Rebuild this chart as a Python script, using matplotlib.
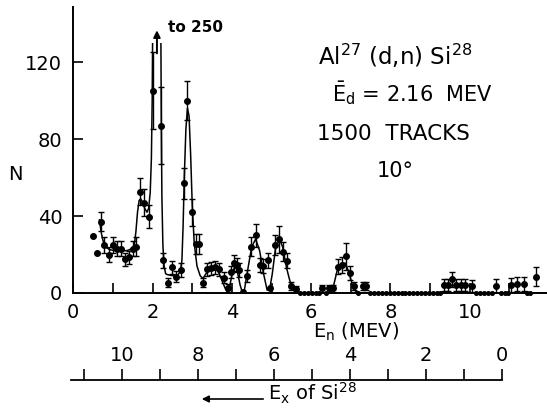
import matplotlib
matplotlib.use('Agg')
import matplotlib.pyplot as plt
from matplotlib.patches import Rectangle, FancyArrowPatch

# ---------------- data ----------------
energy = [0.49, 0.59, 0.69, 0.78, 0.89, 1.00, 1.10, 1.20, 1.31, 1.41, 1.50, 1.59,
          1.68, 1.79, 1.90, 2.00, 2.21, 2.27, 2.38, 2.49, 2.59, 2.71, 2.80, 2.88,
          2.99, 3.10, 3.18, 3.28, 3.37, 3.47, 3.57, 3.67, 3.79, 3.89, 3.97, 4.06,
          4.12, 4.19, 4.29, 4.39, 4.48, 4.61, 4.70, 4.78, 4.91, 4.95, 5.08, 5.20,
          5.30, 5.40, 5.49, 5.61, 6.27, 6.45, 6.55, 6.67, 6.78, 6.89, 6.99, 7.09,
          7.30, 7.38, 9.36, 9.44, 9.56, 9.66, 9.77, 9.87, 10.05, 10.67, 11.05,
          11.20, 11.36, 11.66]
counts = [29.6, 21.0, 37.0, 25.0, 20.0, 25.0, 23.0, 23.0, 17.5, 18.5, 23.0, 24.0,
          52.6, 47.0, 39.6, 105.0, 87.0, 17.0, 5.4, 13.3, 8.5, 12.0, 57.0, 100.0,
          42.0, 25.5, 25.5, 5.4, 12.3, 12.8, 13.3, 12.3, 8.0, 2.5, 11.0, 15.5,
          14.5, 12.0, 0.7, 8.8, 24.0, 30.0, 14.5, 14.0, 17.0, 2.6, 25.0, 28.0,
          21.5, 16.8, 3.8, 2.2, 2.4, 2.4, 2.4, 13.7, 14.5, 19.0, 10.5, 3.6,
          3.6, 3.6, 4.2, 4.2, 7.1, 4.2, 4.2, 4.2, 3.5, 3.6, 4.2,
          4.7, 4.7, 8.5]
errors = [0, 0, 5, 4, 4, 4, 4, 4, 3.5, 3.5, 4, 5,
          7, 7, 6, 20, 20, 4, 2.5, 3.5, 3, 3.5, 8, 10,
          7, 5, 5, 2.5, 3.5, 3.5, 3.5, 3.5, 3, 2, 3, 4,
          3.5, 3.5, 0, 3, 5, 6, 3.5, 3.5, 4, 0, 5, 7,
          5, 4, 2, 1.5, 2, 2, 2, 4, 4, 7, 3.5, 2,
          2, 2, 3, 3, 4, 3, 3, 3, 3, 3.5, 3.5,
          3.5, 3.5, 5]

zero_energy = [5.72, 5.83, 5.93, 6.03, 6.13, 6.20, 6.37, 7.18, 7.48, 7.58, 7.68,
               7.78, 7.88, 7.98, 8.08, 8.18, 8.28, 8.38, 8.48, 8.58, 8.68, 8.78,
               8.88, 8.98, 9.08, 9.18, 9.26, 10.15, 10.25, 10.35, 10.45, 10.55,
               10.78, 10.88, 10.96, 11.45, 11.52]

curve_energy = [0.66, 0.70, 0.74, 0.78, 0.84, 0.92, 1.05, 1.20, 1.35, 1.48, 1.54,
                1.58, 1.62, 1.66, 1.70, 1.75, 1.80, 1.86, 1.90, 1.94, 1.97, 1.99,
                2.00, 2.03, 2.07, 2.11, 2.15, 2.19, 2.21, 2.22, 2.235, 2.26, 2.29,
                2.33, 2.38, 2.50, 2.62, 2.70, 2.74, 2.77, 2.80, 2.84, 2.88, 2.92,
                2.96, 3.00, 3.05, 3.12, 3.20, 3.27, 3.33, 3.42, 3.55, 3.64, 3.74,
                3.84, 3.90, 3.95, 4.02, 4.08, 4.14, 4.21, 4.27, 4.32, 4.40, 4.50,
                4.60, 4.70, 4.80, 4.89, 4.95, 5.02, 5.10, 5.20, 5.28, 5.38, 5.48,
                5.58, 5.65, 6.50, 6.58, 6.66, 6.76, 6.86, 6.95, 7.04, 7.12, 7.20,
                11.95]
curve_counts = [38.0, 32.0, 28.0, 25.0, 23.5, 22.5, 22.0, 22.0, 22.0, 23.0, 25.0,
                32.0, 42.0, 48.0, 49.0, 47.0, 44.0, 42.0, 44.0, 52.0, 70.0, 100.0,
                130.0, 200.0, 245.0, 250.0, 245.0, 200.0, 130.0, 90.0, 50.0, 25.0,
                14.0, 10.0, 9.5, 9.0, 9.0, 11.0, 17.0, 35.0, 60.0, 85.0, 96.0,
                92.0, 72.0, 46.0, 26.0, 14.0, 9.0, 7.5, 9.5, 12.5, 13.0, 12.0,
                7.0, 2.0, 0.0, 4.0, 11.0, 14.0, 11.0, 4.0, 0.0, 2.0, 12.0, 24.0,
                28.0, 22.0, 10.0, 1.5, 1.5, 10.0, 23.0, 28.0, 24.0, 13.0, 5.0,
                1.0, 0.0, 0.0, 5.0, 12.0, 15.5, 15.5, 11.0, 4.0, 1.0, 0.0,
                0.0]

en_ticks = [0, 1, 2, 3, 4, 5, 6, 7, 8, 9, 10, 11]
n_ticks = [0, 40, 80, 120]
ex_ticks = [0, 1, 2, 3, 4, 5, 6, 7, 8, 9, 10, 11]

# ---------------- figure ----------------
W, H = 547, 413
def fx(px):
    return px / W
def fy(py):
    return 1 - py / H

plt.rcParams['font.family'] = ['DejaVu Sans']
plt.rcParams['mathtext.fontset'] = 'dejavusans'

fig = plt.figure(figsize=(5.47, 4.13), dpi=100)
ax = fig.add_axes([fx(73.3), fy(293), fx(547) - fx(73.3), (293 - 7) / H])
ax.set_xlim(0, 11.95)
ax.set_ylim(0, 148.6)
for s in ['top', 'right']:
    ax.spines[s].set_visible(False)
for s in ['left', 'bottom']:
    ax.spines[s].set_linewidth(1.4)

ax.set_xticks(en_ticks)
ax.set_xticklabels([str(t) if t % 2 == 0 else '' for t in en_ticks])
ax.set_yticks(n_ticks)
ax.set_yticklabels([str(t) for t in n_ticks])
ax.tick_params(axis='x', direction='in', length=7, width=1.2, pad=7, labelsize=14)
ax.tick_params(axis='y', direction='in', length=7, width=1.2, pad=8, labelsize=14)

# fitted curve, clipped where it runs off scale
line, = ax.plot(curve_energy, curve_counts, color='black', lw=1.1, zorder=2)
clip = Rectangle((0, 0), 12, 130, transform=ax.transData)
line.set_clip_path(clip)

# points with error bars
e_err = [e for e, r in zip(energy, errors) if r > 0]
c_err = [c for c, r in zip(counts, errors) if r > 0]
r_err = [r for r in errors if r > 0]
ax.errorbar(e_err, c_err, yerr=r_err, fmt='o', color='black', ms=4,
            elinewidth=1.0, capsize=2.2, capthick=1.0, zorder=3)
e_no = [e for e, r in zip(energy, errors) if r == 0]
c_no = [c for c, r in zip(counts, errors) if r == 0]
ax.plot(e_no, c_no, 'o', color='black', ms=4, zorder=3)
ax.plot(zero_energy, [0] * len(zero_energy), 'o', color='black', ms=2.6,
        zorder=3, clip_on=False)

# arrow and "to 250"
ax.annotate('', xy=(2.11, 136.5), xytext=(2.11, 124.5),
            arrowprops=dict(arrowstyle='-|>', lw=1.4, color='black',
                            mutation_scale=10, shrinkA=0, shrinkB=0),
            annotation_clip=False)
fig.text(fx(168), fy(32), 'to 250', fontsize=11, fontweight='bold',
         ha='left', va='baseline')

# labels
fig.text(fx(15), fy(175), 'N', fontsize=14, ha='center', va='center')
fig.text(fx(313), fy(338), r'E$_{\rm n}$ (MEV)', fontsize=14,
         ha='left', va='baseline')

# annotation block
fig.text(fx(318), fy(65), r'Al$^{27}$ (d,n) Si$^{28}$', fontsize=16.5,
         ha='left', va='baseline')
fig.text(fx(332), fy(101), r'$\bar{\rm E}_{\rm d}$ = 2.16  MEV', fontsize=15,
         ha='left', va='baseline')
fig.text(fx(317), fy(140), '1500  TRACKS', fontsize=15.5, ha='left', va='baseline')
fig.text(fx(377), fy(177), '10°', fontsize=15, ha='left', va='baseline')

# E_x of Si28 scale
ax2 = fig.add_axes([fx(71), fy(380), fx(502) - fx(71), 0.0001])
ax2.set_xlim(11.34, 0)
ax2.patch.set_visible(False)
for s in ['bottom', 'left', 'right']:
    ax2.spines[s].set_visible(False)
ax2.spines['top'].set_linewidth(1.3)
ax2.set_yticks([])
ax2.xaxis.tick_top()
ax2.set_xticks(ex_ticks)
ax2.set_xticklabels([str(t) if t % 2 == 0 else '' for t in ex_ticks])
ax2.tick_params(axis='x', direction='out', length=8, width=1.2, pad=3, labelsize=14)

fig.text(fx(268), fy(400), r'E$_{\rm x}$ of Si$^{28}$', fontsize=14,
         ha='left', va='baseline')
fig.add_artist(FancyArrowPatch(
    (fx(266), fy(399)), (fx(199), fy(399)), transform=fig.transFigure,
    arrowstyle='-|>', mutation_scale=10, lw=1.2, color='black'))

fig.savefig('out.png', dpi=100)
